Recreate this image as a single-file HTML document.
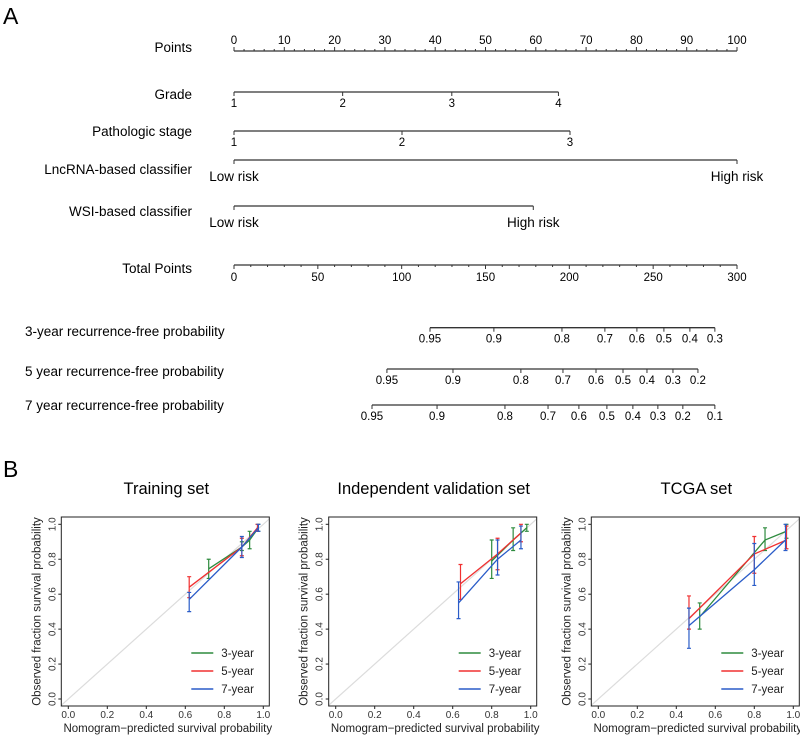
<!DOCTYPE html>
<html><head><meta charset="utf-8"><style>
body{margin:0;background:#fff}
svg{display:block;font-family:"Liberation Sans",Arial,sans-serif}
</style></head><body>
<svg id="fig" width="800" height="735" viewBox="0 0 800 735" xmlns="http://www.w3.org/2000/svg">
<text x="3" y="24" font-size="23">A</text>
<text x="3" y="477" font-size="23">B</text>
<g id="nomo"></g>
<g id="cal"></g>
</svg>
<script>
const NS="http://www.w3.org/2000/svg";
function mk(parent,tag,attrs,text){const e=document.createElementNS(NS,tag);for(const k in attrs)e.setAttribute(k,attrs[k]);if(text!==undefined)e.textContent=text;parent.appendChild(e);return e;}

// ---- Nomogram data ----
const pointsTicks=[0,10,20,30,40,50,60,70,80,90,100];
const gradeLevels=["1","2","3","4"];
const gradePoints=[0,21.6,43.3,64.5];
const stageLevels=["1","2","3"];
const stagePoints=[0,33.4,66.8];
const lncLevels=["Low risk","High risk"];
const lncPoints=[0,100];
const wsiLevels=["Low risk","High risk"];
const wsiPoints=[0,59.5];
const totalTicks=[0,50,100,150,200,250,300];
const prob3Labels=["0.95","0.9","0.8","0.7","0.6","0.5","0.4","0.3"];
const prob3Total=[116.9,155.0,195.6,221.2,240.3,256.4,271.9,286.8];
const prob5Labels=["0.95","0.9","0.8","0.7","0.6","0.5","0.4","0.3","0.2"];
const prob5Total=[91.2,130.6,171.1,196.2,215.9,232.0,246.3,261.8,276.7];
const prob7Labels=["0.95","0.9","0.8","0.7","0.6","0.5","0.4","0.3","0.2","0.1"];
const prob7Total=[82.3,121.1,161.6,187.3,205.7,222.4,237.9,252.8,267.7,286.8];

const NX0=234,NX1=737;
const px=v=>NX0+(NX1-NX0)*v/100;
const tx=v=>NX0+(NX1-NX0)*v/300;
const nomo=document.getElementById('nomo');
function rowLabel(t,y,anchor,x,name){const e=mk(nomo,'text',{x:x,y:y,'font-size':13.5,'text-anchor':anchor},t);

}
function hline(x1,x2,y,name){const e=mk(nomo,'line',{x1:x1,x2:x2,y1:y,y2:y,stroke:'#333','stroke-width':1.3});

}
function tick(x,y,len){mk(nomo,'line',{x1:x,x2:x,y1:y,y2:y+len,stroke:'#333','stroke-width':1});}

rowLabel("Points",52,"end",192,"points-row-label");
hline(px(0),px(100),51,"points-axis");
for(let v=0;v<=100;v+=2)tick(px(v),51,v%10===0?-4:-2);
pointsTicks.forEach(v=>{const e=mk(nomo,'text',{x:px(v),y:44,'font-size':11.5,'text-anchor':'middle'},v);

});
function catRow(label,ly,y,levels,pts,labY,name){
  rowLabel(label,ly,"end",192,name+"-row-label");
  hline(px(pts[0]),px(pts[pts.length-1]),y,name+"-axis");
  levels.forEach((l,i)=>{tick(px(pts[i]),y,4);
    const e=mk(nomo,'text',{x:px(pts[i]),y:labY,'font-size':l.length>2?13.5:11.5,'text-anchor':'middle'},l);
    
    });
}
catRow("Grade",99,92,gradeLevels,gradePoints,107,"grade");
catRow("Pathologic stage",136,131,stageLevels,stagePoints,146,"stage");
catRow("LncRNA-based classifier",174,160,lncLevels,lncPoints,181,"lncrna");
catRow("WSI-based classifier",216,206,wsiLevels,wsiPoints,227,"wsi");
rowLabel("Total Points",273,"end",192,"total-points-row-label");
hline(tx(0),tx(300),265,"total-points-axis");
for(let v=0;v<=300;v+=10)tick(tx(v),265,v%50===0?4:2);
totalTicks.forEach(v=>{const e=mk(nomo,'text',{x:tx(v),y:281,'font-size':11.5,'text-anchor':'middle'},v);

});
function probRow(label,ly,y,labels,tots,name){
  rowLabel(label,ly,"start",25,name+"-row-label");
  hline(tx(tots[0]),tx(tots[tots.length-1]),y,name+"-axis");
  labels.forEach((l,i)=>{tick(tx(tots[i]),y,4);
    const e=mk(nomo,'text',{x:tx(tots[i]),y:y+15,'font-size':11.5,'text-anchor':'middle'},l);
    
    });
}
probRow("3-year recurrence-free probability",336,327.7,prob3Labels,prob3Total,"prob-3yr");
probRow("5 year recurrence-free probability",376,369,prob5Labels,prob5Total,"prob-5yr");
probRow("7 year recurrence-free probability",410,405,prob7Labels,prob7Total,"prob-7yr");

// ---- Calibration data ----
const panelTitles=["Training set","Independent validation set","TCGA set"];
const seriesNames=["3-year","5-year","7-year"];
const seriesColors=["#2e8b3e","#f03030","#2a5cc8"];
const p1x=[[0.72,0.89,0.93,0.975],[0.62,0.89,0.97],[0.62,0.89,0.975]];
const p1y=[[0.745,0.87,0.91,0.98],[0.64,0.87,0.98],[0.57,0.87,0.98]];
const p1lo=[[0.69,0.85,0.86,0.96],[0.58,0.82,0.96],[0.50,0.81,0.96]];
const p1hi=[[0.80,0.90,0.96,1.0],[0.70,0.92,1.0],[0.61,0.93,1.0]];
const p2x=[[0.80,0.91,0.98],[0.64,0.83,0.95],[0.63,0.83,0.95]];
const p2y=[[0.79,0.91,0.98],[0.66,0.83,0.95],[0.55,0.80,0.91]];
const p2lo=[[0.69,0.85,0.96],[0.57,0.74,0.90],[0.46,0.71,0.86]];
const p2hi=[[0.91,0.98,1.0],[0.77,0.92,1.0],[0.67,0.91,0.99]];
const p3x=[[0.52,0.855,0.965],[0.465,0.80,0.965],[0.465,0.80,0.96]];
const p3y=[[0.47,0.91,0.96],[0.46,0.83,0.91],[0.42,0.74,0.91]];
const p3lo=[[0.40,0.85,0.92],[0.40,0.72,0.86],[0.29,0.65,0.85]];
const p3hi=[[0.55,0.98,1.0],[0.59,0.93,0.99],[0.52,0.89,1.0]];
const panelX=[p1x,p2x,p3x],panelY=[p1y,p2y,p3y],panelLo=[p1lo,p2lo,p3lo],panelHi=[p1hi,p2hi,p3hi];
const axisTicks=[0,0.2,0.4,0.6,0.8,1.0];

const cal=document.getElementById('cal');
const X0=[68.3,335.7,598.3];
const Y0=699,YS=174.7,XS=195;
panelTitles.forEach((title,p)=>{
  const g=mk(cal,'g',{});
  
  
  const sx=v=>X0[p]+XS*v, sy=v=>Y0-YS*v;
  const L=X0[p]-7,R=X0[p]+201,T=517,B=706;
  const t=mk(g,'text',{x:(L+R)/2+1,y:494,'font-size':16.5,'text-anchor':'middle'},title);
  
  
  const cid='clip'+p;
  const cp=mk(g,'clipPath',{id:cid});mk(cp,'rect',{x:L,y:T,width:R-L,height:B-T});
  const d=mk(g,'line',{x1:sx(-0.05),y1:sy(-0.05),x2:sx(1.1),y2:sy(1.1),stroke:'#dcdcdc','stroke-width':1.2,'clip-path':'url(#'+cid+')'});
  
  
  const box=mk(g,'rect',{x:L,y:T,width:R-L,height:B-T,fill:'none',stroke:'#222','stroke-width':1});
  
  
  axisTicks.forEach(v=>{
    mk(g,'line',{x1:sx(v),x2:sx(v),y1:B,y2:B+3,stroke:'#222'});
    const xl=mk(g,'text',{x:sx(v),y:B+12,'font-size':10,'text-anchor':'middle',fill:'#333'},v.toFixed(1));
    
    
    mk(g,'line',{x1:L,x2:L-3,y1:sy(v),y2:sy(v),stroke:'#222'});
    const yl=mk(g,'text',{x:L-6,y:sy(v),'font-size':10,'text-anchor':'middle',fill:'#333',transform:`rotate(-90 ${L-6} ${sy(v)})`},v.toFixed(1));
    
    
  });
  const xt=mk(g,'text',{x:sx(0.5)+2,y:732,'font-size':11.5,'text-anchor':'middle',fill:'#222'},'Nomogram\u2212predicted survival probability');
  
  
  const ytx=L-21,yty=(T+B)/2;
  const yt=mk(g,'text',{x:ytx,y:yty,'font-size':11.5,'text-anchor':'middle',fill:'#222',transform:`rotate(-90 ${ytx} ${yty})`},'Observed fraction survival probability');
  
  
  seriesNames.forEach((s,k)=>{
    const xs=panelX[p][k],ys=panelY[p][k],lo=panelLo[p][k],hi=panelHi[p][k];
    const pl=mk(g,'polyline',{points:xs.map((v,i)=>sx(v)+','+sy(ys[i])).join(' '),fill:'none',stroke:seriesColors[k],'stroke-width':1.3});
    
    
    xs.forEach((v,i)=>{
      const eb=mk(g,'path',{d:`M${sx(v)},${sy(lo[i])}V${sy(hi[i])}M${sx(v)-2},${sy(lo[i])}h4M${sx(v)-2},${sy(hi[i])}h4`,stroke:seriesColors[k],'stroke-width':1.2,fill:'none'});
      
      
    });
    const ly=653+k*18;
    const lg=mk(g,'g',{});
    
    
    mk(lg,'line',{x1:X0[p]+123,x2:X0[p]+145,y1:ly,y2:ly,stroke:seriesColors[k],'stroke-width':1.4});
    mk(lg,'text',{x:X0[p]+153,y:ly+4,'font-size':11.5,fill:'#222'},s);
  });
});
</script>
</body></html>
